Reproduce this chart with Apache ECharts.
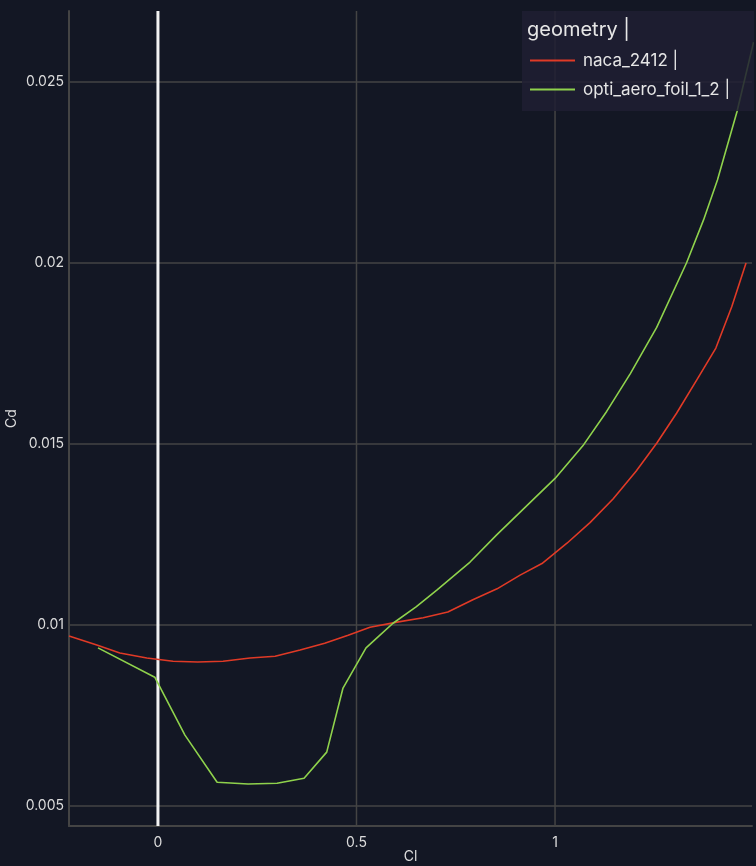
<!DOCTYPE html>
<html><head><meta charset="utf-8">
<script src="https://cdn.jsdelivr.net/npm/echarts@6/dist/echarts.min.js"></script>
<style>html,body{margin:0;padding:0;background:#131724;overflow:hidden;}#c{width:756px;height:866px;}</style>
</head><body><div id="c"></div>
<script>
const nacaCl = [-0.224,-0.154,-0.096,-0.028,0.038,0.10,0.164,0.232,0.295,0.358,0.42,0.479,0.534,0.602,0.668,0.73,0.793,0.854,0.912,0.967,1.03,1.088,1.146,1.204,1.256,1.306,1.357,1.405,1.445,1.481];
const nacaCd = [0.0097,0.00945,0.00923,0.00909,0.00900,0.00898,0.0090,0.00909,0.00914,0.00931,0.0095,0.00972,0.00994,0.01008,0.0102,0.01036,0.0107,0.0110,0.01138,0.0117,0.01226,0.01283,0.01348,0.01425,0.01502,0.01585,0.01677,0.01765,0.01879,0.0200];
const optiCl = [-0.151,-0.008,0.068,0.149,0.227,0.30,0.368,0.425,0.466,0.524,0.557,0.592,0.65,0.703,0.786,0.853,0.92,1.0,1.07,1.13,1.19,1.256,1.331,1.374,1.409,1.458,1.5];
const optiCd = [0.00937,0.00856,0.00696,0.00566,0.00561,0.00563,0.00577,0.00649,0.00826,0.00937,0.0097,0.01005,0.0105,0.01097,0.01174,0.01249,0.0132,0.01405,0.01495,0.0159,0.01695,0.01822,0.0200,0.02119,0.02229,0.02417,0.0261];
const xTicks = [0, 0.5, 1];
const yTicks = [0.005, 0.01, 0.015, 0.02, 0.025];
const seriesNames = ['naca_2412', 'opti_aero_foil_1_2'];
const legendTitle = 'geometry';

const X_MIN = -0.224, X_MAX = 1.496, Y_MIN = 0.00445, Y_MAX = 0.02696;
const chart = echarts.init(document.getElementById('c'));
const font = 'Inter, "Noto Sans", sans-serif';
const zip = (a,b)=>a.map((v,i)=>[v,b[i]]);
const gridSeries = [
  ...yTicks.map(v => ({type:'line', silent:true, z:1, showSymbol:false, data:[[X_MIN,v],[X_MAX,v]], lineStyle:{color:'#444', width:1.5}})),
  ...xTicks.map(v => ({type:'line', silent:true, z: v===0?2:1, showSymbol:false, data:[[v,Y_MIN],[v,Y_MAX]],
      lineStyle: v===0 ? {color:'#f2f2f2', width:3} : {color:'#444', width:1.5}}))
];
chart.setOption({
  backgroundColor: '#131724',
  animation: false,
  grid: {left: 69, right: 4, top: 11, bottom: 40, outerBoundsMode: 'none', containLabel: false},
  xAxis: {
    type: 'value', min: X_MIN, max: X_MAX,
    name: 'Cl', nameLocation: 'middle', nameGap: 24, nameMoveOverlap: false,
    nameTextStyle: {color: '#dcdcdc', fontSize: 14, fontFamily: font},
    axisLine: {show: true, onZero: false, lineStyle: {color: '#444', width: 2}},
    axisTick: {show: false},
    splitLine: {show: false},
    axisLabel: {customValues: xTicks, color: '#dcdcdc', fontSize: 14, fontFamily: font, margin: 10}
  },
  yAxis: {
    type: 'value', min: Y_MIN, max: Y_MAX,
    name: 'Cd', nameLocation: 'middle', nameGap: 50, nameMoveOverlap: false,
    nameTextStyle: {color: '#dcdcdc', fontSize: 14, fontFamily: font},
    axisLine: {show: true, onZero: false, lineStyle: {color: '#444', width: 2}},
    axisTick: {show: false},
    splitLine: {show: false},
    axisLabel: {customValues: yTicks, color: '#dcdcdc', fontSize: 14, fontFamily: font, margin: 5}
  },
  legend: {
    orient: 'vertical', left: 525, top: 47, itemGap: 12, z: 60,
    itemWidth: 45, itemHeight: 2, icon: 'rect',
    textStyle: {color: '#e6e6e6', fontSize: 17, fontFamily: font, padding: [0,0,0,3]},
    formatter: n => n + ' |',
    data: seriesNames
  },
  graphic: [
    {type: 'rect', left: 522, top: 11, z: 50, shape: {width: 232, height: 100}, style: {fill: 'rgba(32,30,50,0.85)'}},
    {type: 'text', left: 527, top: 20, z: 51, style: {text: legendTitle + ' |', fill: '#e6e6e6', font: '20px ' + font}}
  ],
  series: [
    ...gridSeries,
    {type: 'line', name: seriesNames[0], data: zip(nacaCl, nacaCd), showSymbol: false, z: 3,
     lineStyle: {color: '#e03a26', width: 1.6}, itemStyle: {color: '#e03a26'}},
    {type: 'line', name: seriesNames[1], data: zip(optiCl, optiCd), showSymbol: false, z: 3,
     lineStyle: {color: '#8fd24c', width: 1.6}, itemStyle: {color: '#8fd24c'}}
  ]
});
</script></body></html>
